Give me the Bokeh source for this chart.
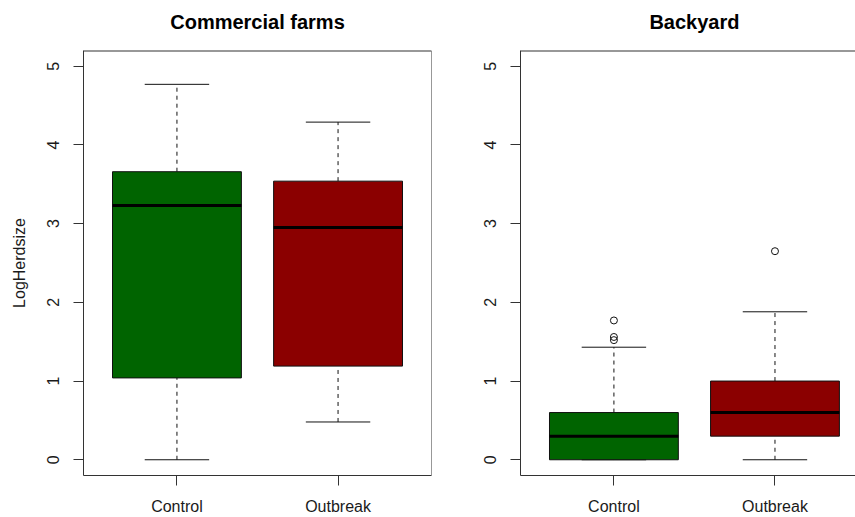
from bokeh.plotting import figure
from bokeh.layouts import row, column
from bokeh.models import FixedTicker, Range1d, Span, ColumnDataSource
from bokeh.core.properties import value
from bokeh.embed import file_html
from bokeh.resources import INLINE

# ---- data ----
categories = ["Control", "Outbreak"]
positions = [1, 2]
fill_colors = ["#006400", "#8B0000"]
y_ticks = [0, 1, 2, 3, 4, 5]
panel_titles = ["Commercial farms", "Backyard"]

comm_lower = [0.0, 0.48]
comm_q1 = [1.04, 1.19]
comm_median = [3.23, 2.95]
comm_q3 = [3.66, 3.54]
comm_upper = [4.77, 4.29]
comm_out_group = []
comm_out_y = []

back_lower = [0.0, 0.0]
back_q1 = [0.0, 0.30]
back_median = [0.30, 0.60]
back_q3 = [0.60, 1.00]
back_upper = [1.43, 1.88]
back_out_group = ["Control", "Control", "Control", "Outbreak"]
back_out_y = [1.77, 1.56, 1.52, 2.65]

FONT = "Liberation Sans"
LINE = "#333333"
MARK = "#111111"
BOXW = 0.8
STAPLEW = 0.4
X_START, X_FULL_END = 0.42, 2.58
Y_START, Y_END = -0.2, 5.2
TOP_H = 50
MAIN_H = 517 - TOP_H


def title_band(title, width, bl, br, x_end):
    t = figure(width=width, height=TOP_H, output_backend="svg", toolbar_location=None,
               x_range=Range1d(X_START, x_end), y_range=Range1d(0, TOP_H),
               min_border_left=bl, min_border_right=br, min_border_top=0, min_border_bottom=0)
    t.axis.visible = False
    t.grid.visible = False
    t.outline_line_color = None
    t.text(x=[(X_START + X_FULL_END) / 2], y=[TOP_H - 21], text=[title],
           text_font=value(FONT), text_font_size="20px", text_font_style="bold",
           text_color="black", text_align="center", text_baseline="middle")
    return t


def panel(lower, q1, med, q3, upper, out_g, out_y, width, bl, br, x_end,
          ylabel=None, right_panel=False):
    p = figure(width=width, height=MAIN_H, output_backend="svg", toolbar_location=None,
               x_range=Range1d(X_START, x_end), y_range=Range1d(Y_START, Y_END),
               min_border_left=bl, min_border_right=br,
               min_border_top=0, min_border_bottom=40)
    p.grid.visible = False
    p.background_fill_color = "white"
    p.border_fill_color = "white"

    src = ColumnDataSource(dict(
        x=positions, lower=lower, q1=q1, med=med, q3=q3, upper=upper,
        color=fill_colors,
        xl=[x - BOXW / 2 for x in positions], xr=[x + BOXW / 2 for x in positions],
        sl=[x - STAPLEW / 2 for x in positions], sr=[x + STAPLEW / 2 for x in positions],
    ))
    # whiskers
    p.segment(x0="x", x1="x", y0="q3", y1="upper", source=src, line_color=MARK,
              line_width=1, line_dash="4 4")
    p.segment(x0="x", x1="x", y0="lower", y1="q1", source=src, line_color=MARK,
              line_width=1, line_dash="4 4")
    # staples
    p.segment(x0="sl", x1="sr", y0="upper", y1="upper", source=src, line_color=MARK, line_width=1)
    p.segment(x0="sl", x1="sr", y0="lower", y1="lower", source=src, line_color=MARK, line_width=1)
    # boxes
    p.vbar(x="x", width=BOXW, bottom="q1", top="q3", source=src, fill_color="color",
           line_color=MARK, line_width=1)
    # medians
    p.segment(x0="xl", x1="xr", y0="med", y1="med", source=src, line_color="black", line_width=3)
    # outliers
    if out_g:
        ox = [positions[categories.index(g)] for g in out_g]
        p.scatter(x=ox, y=out_y, size=7, fill_color=None, line_color=MARK, line_width=1)

    # axes
    p.xaxis.ticker = FixedTicker(ticks=positions)
    p.xaxis.major_label_overrides = {pos: c for pos, c in zip(positions, categories)}
    p.yaxis.ticker = FixedTicker(ticks=y_ticks)
    for ax in (p.xaxis[0], p.yaxis[0]):
        ax.minor_tick_line_color = None
        ax.major_tick_out = 10
        ax.major_tick_in = 0
        ax.major_tick_line_color = LINE
        ax.major_label_text_font = FONT
        ax.major_label_text_font_size = "16px"
        ax.major_label_text_color = "#1a1a1a"
        ax.axis_line_color = LINE
    p.xaxis.major_label_standoff = 12
    p.yaxis.major_label_standoff = 14
    p.yaxis.major_label_orientation = "vertical"
    if ylabel:
        p.yaxis.axis_label = ylabel
        p.yaxis.axis_label_text_font = FONT
        p.yaxis.axis_label_text_font_size = "16px"
        p.yaxis.axis_label_text_font_style = "normal"
        p.yaxis.axis_label_text_color = "#1a1a1a"
        p.yaxis.axis_label_standoff = 17

    p.outline_line_color = None
    # top edge of the box frame
    p.add_layout(Span(location=Y_END, dimension="width", line_color=LINE, line_width=2))
    if not right_panel:
        p.add_layout(Span(location=x_end, dimension="height", line_color=LINE, line_width=1))
    return p


left_t = title_band(panel_titles[0], 435, 83, 4, X_FULL_END)
right_t = title_band(panel_titles[1], 420, 85, 0, 2.50)
left = panel(comm_lower, comm_q1, comm_median, comm_q3, comm_upper,
             comm_out_group, comm_out_y, width=435, bl=83, br=4, x_end=X_FULL_END,
             ylabel="LogHerdsize")
right = panel(back_lower, back_q1, back_median, back_q3, back_upper,
              back_out_group, back_out_y, width=420, bl=85, br=0, x_end=2.50,
              right_panel=True)

layout = column(row(left_t, right_t), row(left, right))
open("out.html", "w").write(file_html(layout, INLINE))
